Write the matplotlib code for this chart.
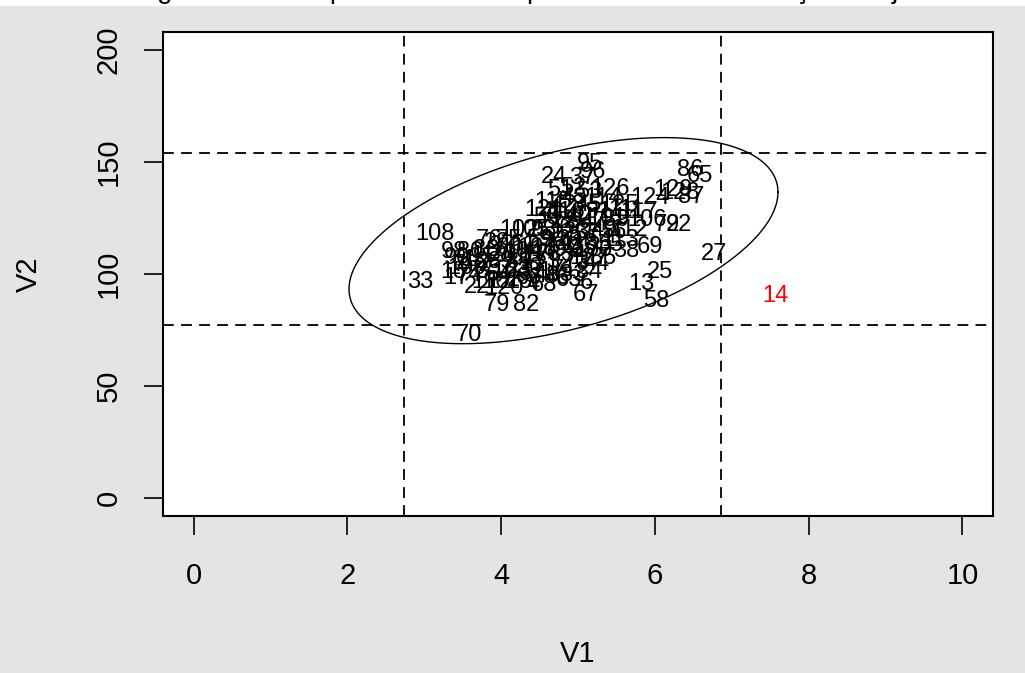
import numpy as np
import matplotlib.pyplot as plt

plt.rcParams['font.family'] = ['Liberation Sans', 'DejaVu Sans']

# point labels and coordinates (V1, V2)
labels = [14, 27, 25, 13, 58, 67, 69, 38, 44, 79, 82, 70, 33, 108, 22,
          86, 65, 87, 129, 128, 124, 126, 24, 95, 96, 37, 117, 111, 106, 92,
          72, 102, 105, 29, 46, 48, 63, 12, 18,
          98, 90, 80, 88, 15, 17, 74, 3, 5, 9, 10, 11, 16, 19, 20, 21, 23, 26,
          28, 30, 31, 32, 34, 35, 36, 39, 40, 41, 42, 43, 45, 47, 49, 50, 51,
          52, 53, 54, 55, 56, 57, 59, 60, 61, 62, 64, 66, 68, 71, 73, 75, 76,
          77, 78, 81, 83, 84, 85, 89, 91, 93, 94, 97, 99, 100, 101, 103, 104,
          107, 109, 110, 112, 113, 114, 115, 116, 118, 119, 120, 121, 122, 123,
          125, 127, 1, 2, 4, 6, 7, 8]
v1 = [7.56, 6.77, 6.07, 5.82, 6.01, 5.10, 5.93, 5.62, 5.24, 3.94, 4.33, 3.58, 2.95, 3.14, 3.68,
      6.46, 6.59, 6.47, 6.24, 6.32, 5.94, 5.42, 4.69, 5.16, 5.19, 5.06, 5.79, 5.63, 5.89, 6.31,
      6.15, 4.23, 4.38, 3.94, 4.72, 4.59, 4.88, 3.97, 4.23,
      3.38, 3.42, 3.60, 3.81, 3.38, 3.42, 3.58, 3.75, 3.90, 4.07, 4.23, 4.42, 4.55, 4.75, 4.90, 4.59, 4.23, 4.03,
      3.84, 4.36, 4.49, 4.75, 4.94, 5.07, 4.75, 4.88, 5.01, 4.68, 4.81, 4.94, 5.14, 5.20, 5.33, 4.59, 4.77,
      4.94, 5.14, 5.27, 5.42, 5.46, 5.11, 4.49, 4.10, 4.29, 3.71, 3.97, 4.36, 4.55, 4.81, 4.98, 4.10, 3.84,
      4.42, 4.62, 4.23, 4.94, 5.14, 5.33, 5.49, 5.27, 4.55, 4.69, 4.85, 5.03, 5.19, 5.37, 4.12, 4.28,
      4.46, 3.55, 3.86, 5.66, 5.55, 5.33, 4.67, 4.85, 5.01, 3.84, 4.03, 4.55, 4.72, 4.90,
      5.53, 5.14, 3.58, 4.16, 4.42, 5.11, 3.45, 5.01]
v2 = [90.2, 108.9, 100.9, 95.5, 87.9, 90.6, 112.1, 110.3, 104.5, 86.2, 86.2, 72.8, 96.4, 117.9, 94.2,
      146.4, 143.8, 134.4, 137.5, 136.2, 133.9, 137.9, 143.3, 149.1, 145.5, 142.9, 127.7, 128.6, 124.1, 121.9,
      121.9, 119.6, 119.6, 113.8, 98.2, 99.1, 97.3, 96.4, 96.4,
      109.8, 107.1, 109.8, 110.7, 100.9, 98.2, 99.6, 100.9, 102.7, 105.4, 107.1, 108.5, 110.7, 112.9, 115.2, 104.0, 101.8, 108.5,
      105.4, 102.7, 100.9, 105.4, 108.5, 111.6, 120.5, 123.2, 126.3, 127.7, 130.8, 133.9, 130.8, 123.2, 119.6, 125.0, 137.5,
      138.4, 136.6, 115.2, 112.9, 118.8, 117.4, 115.2, 111.6, 112.9, 104.0, 99.6, 98.2, 95.1, 101.8, 105.4, 115.2, 115.2,
      105.4, 108.5, 105.4, 99.6, 100.9, 107.1, 124.1, 127.7, 119.6, 115.2, 110.7, 120.5, 110.7, 125.0, 100.9, 109.8,
      111.6, 102.7, 96.4, 119.6, 115.2, 133.9, 132.1, 127.7, 113.4, 108.0, 93.8, 128.6, 123.2, 118.8,
      130.8, 107.1, 106.3, 97.3, 95.1, 96.0, 104.0, 130.8]
outlier = 14

# control limits
v1_limits = [2.73, 6.86]
v2_limits = [77.2, 154.0]

# confidence ellipse: centre, half-widths and correlation
ell_center = (4.81, 115.0)
ell_half = (2.79, 46.0)
ell_rho = 0.47

fig = plt.figure(figsize=(10.25, 6.73), dpi=100)
fig.patch.set_facecolor('#e4e4e4')
ax = fig.add_axes([0.159, 0.233, 0.81, 0.719])
ax.set_facecolor('white')

# white strip with the clipped caption at the very top
fig.patches.append(plt.Rectangle((0, 0.991), 1, 0.009, transform=fig.transFigure,
                                 facecolor='white', edgecolor='none'))
fig.text(0.53, 1.003, 'Figura 3.1 - Grupos de controle para controle da variação conjunta',
         ha='center', va='baseline', fontsize=20)

for lab, x, y in zip(labels, v1, v2):
    ax.text(x, y, str(lab), ha='center', va='center', fontsize=17,
            color='red' if lab == outlier else 'black')

t = np.linspace(0, 2 * np.pi, 400)
ex = ell_center[0] + ell_half[0] * np.cos(t)
ey = ell_center[1] + ell_half[1] * (ell_rho * np.cos(t) + np.sqrt(1 - ell_rho ** 2) * np.sin(t))
ax.plot(ex, ey, color='black', lw=1.0)

for v in v1_limits:
    ax.axvline(v, color='black', ls=(0, (6, 4)), lw=1.3)
for h in v2_limits:
    ax.axhline(h, color='black', ls=(0, (6, 4)), lw=1.3)

ax.set_xlim(-0.4, 10.4)
ax.set_ylim(-8, 208)
ax.set_xticks([0, 2, 4, 6, 8, 10])
ax.set_yticks([0, 50, 100, 150, 200])
ax.tick_params(length=14, width=1.2, labelsize=21)
ax.tick_params(axis='x', pad=19)
ax.tick_params(axis='y', pad=15)
for lab in ax.get_yticklabels():
    lab.set_rotation(90)
    lab.set_va('center')
for s in ax.spines.values():
    s.set_linewidth(1.5)

ax.set_xlabel('V1', fontsize=21, labelpad=36)
ax.set_ylabel('V2', fontsize=21, labelpad=37)

fig.savefig('out.png', dpi=100, facecolor=fig.get_facecolor())
